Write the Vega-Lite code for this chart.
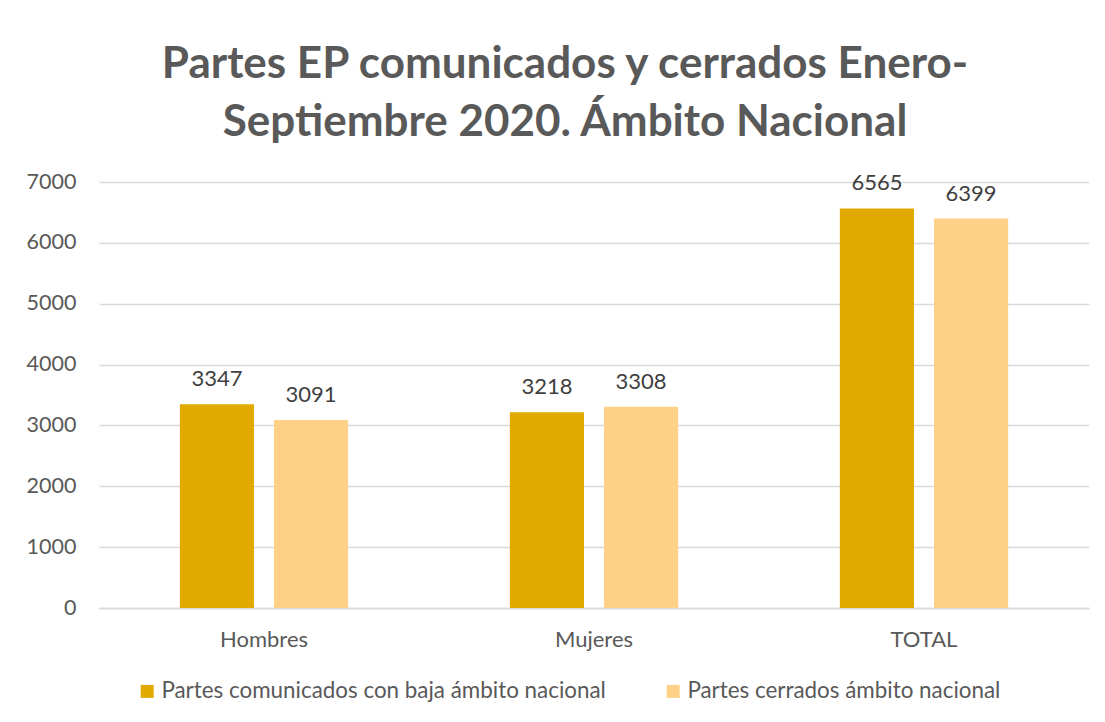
{
  "$schema": "https://vega.github.io/schema/vega-lite/v6.json",
  "width": 990,
  "height": 426,
  "autosize": {"type": "none"},
  "padding": {"left": 99, "top": 182, "right": 16, "bottom": 114},
  "background": "white",
  "title": {
    "text": ["Partes EP comunicados y cerrados Enero-", "Septiembre 2020. Ámbito Nacional"],
    "font": "Lato",
    "fontSize": 44,
    "fontWeight": "bold",
    "color": "#595959",
    "lineHeight": 58,
    "anchor": "middle",
    "dx": -29,
    "offset": 26
  },
  "data": {
    "values": [
      {"categoria": "Hombres", "serie": "Partes comunicados con baja ámbito nacional", "valor": 3347},
      {"categoria": "Hombres", "serie": "Partes cerrados ámbito nacional", "valor": 3091},
      {"categoria": "Mujeres", "serie": "Partes comunicados con baja ámbito nacional", "valor": 3218},
      {"categoria": "Mujeres", "serie": "Partes cerrados ámbito nacional", "valor": 3308},
      {"categoria": "TOTAL", "serie": "Partes comunicados con baja ámbito nacional", "valor": 6565},
      {"categoria": "TOTAL", "serie": "Partes cerrados ámbito nacional", "valor": 6399}
    ]
  },
  "encoding": {
    "x": {
      "field": "categoria",
      "type": "nominal",
      "sort": ["Hombres", "Mujeres", "TOTAL"],
      "scale": {"paddingInner": 0.49, "paddingOuter": 0.245},
      "axis": {
        "title": null,
        "labelAngle": 0,
        "domain": true,
        "domainColor": "#d9d9d9",
        "domainWidth": 1.5,
        "ticks": false,
        "labelPadding": 21,
        "labelFont": "Lato",
        "labelFontSize": 22,
        "labelColor": "#595959"
      }
    },
    "xOffset": {
      "field": "serie",
      "type": "nominal",
      "sort": ["Partes comunicados con baja ámbito nacional", "Partes cerrados ámbito nacional"],
      "scale": {"paddingInner": 0.213, "paddingOuter": 0}
    },
    "y": {
      "field": "valor",
      "type": "quantitative",
      "scale": {"domain": [0, 7000], "nice": false},
      "axis": {
        "title": null,
        "values": [0, 1000, 2000, 3000, 4000, 5000, 6000, 7000],
        "format": "d",
        "domain": false,
        "ticks": false,
        "grid": true,
        "gridColor": "#d9d9d9",
        "gridWidth": 1.5,
        "labelPadding": 23,
        "labelFont": "Lato",
        "labelFontSize": 21.5,
        "labelColor": "#595959"
      }
    }
  },
  "layer": [
    {
      "mark": {"type": "bar"},
      "encoding": {
        "color": {
          "field": "serie",
          "type": "nominal",
          "sort": ["Partes comunicados con baja ámbito nacional", "Partes cerrados ámbito nacional"],
          "scale": {
            "domain": ["Partes comunicados con baja ámbito nacional", "Partes cerrados ámbito nacional"],
            "range": ["#E2AA00", "#FFD187"]
          },
          "legend": {
            "title": null,
            "orient": "none",
            "legendX": 37,
            "legendY": 498,
            "direction": "horizontal",
            "columns": 2,
            "columnPadding": 56,
            "symbolType": "square",
            "symbolSize": 169,
            "symbolStrokeWidth": 0,
            "labelOffset": 3,
            "labelFont": "Lato",
            "labelFontSize": 22.4,
            "labelColor": "#595959",
            "padding": 0,
            "labelLimit": 600
          }
        }
      }
    },
    {
      "mark": {"type": "text", "dy": -18, "baseline": "alphabetic", "font": "Lato", "fontSize": 22, "color": "#404040"},
      "encoding": {
        "text": {"field": "valor", "type": "quantitative", "format": "d"}
      }
    }
  ],
  "config": {"view": {"stroke": null}}
}
